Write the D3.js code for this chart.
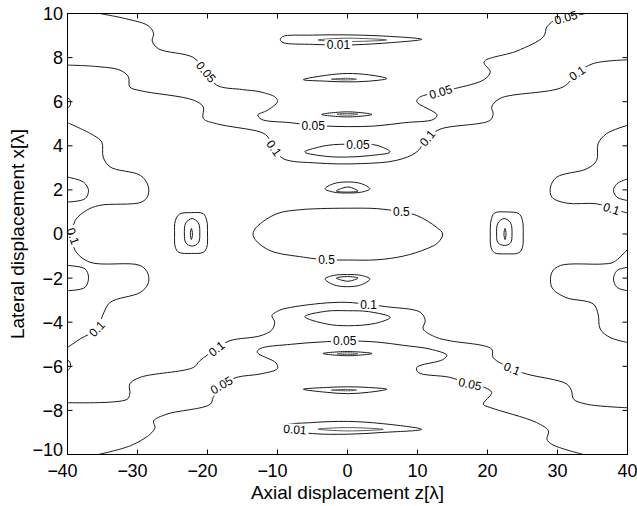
<!DOCTYPE html>
<html><head><meta charset="utf-8">
<script src="https://cdn.jsdelivr.net/npm/d3@7"></script>
<style>
body{margin:0;background:#fff}
svg{display:block}
text{font-family:"Liberation Sans",Arial,Helvetica,sans-serif;fill:#000}
</style>
</head><body>
<svg id="chart" width="637" height="506"></svg>
<script>
// ---------- axis data ----------
const xTicks = [-40,-30,-20,-10,0,10,20,30,40];
const yTicks = [-10,-8,-6,-4,-2,0,2,4,6,8,10];
const xTitle = "Axial displacement z[\u03bb]";
const yTitle = "Lateral displacement x[\u03bb]";

// ---------- contour lines, points are [z, x] ----------
const top005 = [[-35.4,10.0],[-31.5,9.75],[-28.5,9.45],[-27.7,9.1],[-27.9,8.75],[-27.0,8.4],[-22.0,8.0],[-20.2,7.35],[-18.7,6.75],[-15,6.55],[-12.5,6.45],[-10.3,6.2],[-10.0,6.0],[-11.5,5.6],[-12.8,5.4],[-12.3,5.2],[-8.2,5.05],[-4.9,4.93],[0,4.87],[4,4.9],[8.2,5.05],[12.3,5.2],[12.8,5.4],[9.9,6.0],[10.3,6.2],[13.3,6.45],[15.4,6.6],[19.5,7.0],[20.4,7.35],[19.5,7.8],[24.2,8.3],[28,8.95],[28.5,9.4],[29.9,9.75],[31.2,9.82],[34,10.0]];
const top01 = [[-40,7.66],[-36,7.6],[-32.5,7.43],[-31.3,7.13],[-31.1,6.67],[-29.6,6.5],[-22,6.07],[-20.6,5.76],[-20.6,5.24],[-18.7,5.0],[-12.5,4.63],[-11.5,4.45],[-10.5,3.9],[-9.2,3.42],[-4.4,3.22],[1.8,3.19],[7,3.34],[9.9,3.72],[11.4,4.35],[13.2,4.75],[20.4,5.16],[20.8,5.46],[20.6,5.76],[21.8,6.15],[30.8,6.67],[32.8,7.3],[35.1,7.73],[40,7.9]];
const left01 = [[-40,5.05],[-36.3,4.48],[-35.1,4.17],[-34.9,3.49],[-33.9,3.04],[-29.6,2.66],[-28.5,2.2],[-28.5,1.75],[-29.4,1.45],[-35.4,1.3],[-37.3,1.07],[-38.9,0.61],[-39.3,-0.1],[-38.9,-0.75],[-36.8,-1.28],[-29.6,-1.43],[-28.5,-1.81],[-28.5,-2.26],[-29.6,-2.65],[-33.9,-3.1],[-34.9,-3.63],[-35.8,-4.3],[-38.2,-4.76],[-40,-5.15]];
const right01Top = [[40,4.93],[37,4.55],[35.8,4.1],[35.6,3.34],[34.2,2.96],[29.9,2.58],[29,2.13],[29.2,1.67],[31.3,1.4],[35.6,1.37],[37.7,1.15],[40,0.95]];
const right01Bottom = [[40,-0.7],[38,-1.28],[36.5,-1.36],[30.4,-1.43],[29.2,-1.74],[29.2,-2.42],[31.1,-2.87],[35.1,-3.17],[35.8,-3.63],[36.1,-4.31],[37.5,-4.69],[40,-4.92]];
const bottom01 = [[-40,-7.65],[-31.5,-7.5],[-31.1,-7.26],[-31.1,-6.8],[-29.6,-6.5],[-22,-6.05],[-21.1,-5.75],[-18.7,-5.2],[-16.8,-4.84],[-12.5,-4.62],[-10.8,-4.35],[-10.4,-4.0],[-10.8,-3.7],[-10.1,-3.52],[-9.2,-3.4],[-3.9,-3.15],[-0.1,-3.1],[3,-3.2],[5.6,-3.3],[10.4,-3.55],[11.1,-3.93],[10.8,-4.3],[12.7,-4.69],[14.6,-4.84],[20.6,-5.22],[20.8,-5.6],[23.5,-6.1],[25.6,-6.35],[31.3,-6.8],[32,-7.11],[32.3,-7.49],[34.2,-7.72],[40,-7.88]];
const bottom005 = [[-35.6,-10.0],[-31,-9.6],[-28.2,-9.08],[-27.5,-8.78],[-27.7,-8.48],[-25.8,-8.17],[-19.6,-7.72],[-19.2,-7.42],[-18,-6.85],[-15.8,-6.5],[-12.5,-6.35],[-10.0,-6.1],[-10.2,-5.85],[-12.9,-5.37],[-12.5,-5.2],[-8,-5.0],[-3.9,-4.9],[-0.4,-4.85],[4.2,-4.9],[8,-5.05],[11.8,-5.22],[14.2,-5.5],[13.6,-5.7],[9.9,-6.05],[10.1,-6.28],[14.6,-6.5],[17.5,-6.8],[19.6,-6.96],[20.6,-7.19],[19.4,-7.72],[20.4,-7.87],[27,-8.55],[28.7,-8.93],[28.5,-9.31],[29.2,-9.54],[33.7,-10.0]];

const edgeLobeLeftTop = [[-40,2.58],[-37.7,2.35],[-37,1.98],[-37.5,1.6],[-40,1.45]];
const edgeLobeLeftBottom = [[-40,-1.43],[-37.5,-1.58],[-37,-1.96],[-37.5,-2.42],[-40,-2.57]];
const edgeLobeRightTop = [[40,2.5],[38.5,2.28],[38,1.98],[38.5,1.67],[40,1.52]];
const edgeLobeRightBottom = [[40,-1.51],[38.5,-1.66],[38,-2.04],[38.5,-2.42],[40,-2.57]];
const edgeNubLeftTop = [[-40,6.2],[-39.6,6.05],[-39.6,5.85],[-40,5.7]];
const edgeNubLeftBottom = [[-40,-5.7],[-39.6,-5.85],[-39.6,-6.05],[-40,-6.2]];

const eyeLeftOuter = [[-24.7,0],[-24.6,0.6],[-24.0,0.9],[-22.3,0.97],[-20.6,0.92],[-20.1,0.6],[-20.0,0],[-20.1,-0.6],[-20.6,-0.83],[-22.3,-0.88],[-24.1,-0.83],[-24.6,-0.6]];
const eyeLeftInner = [[-23.3,0],[-23.1,0.5],[-22.2,0.7],[-21.3,0.5],[-21.1,0],[-21.3,-0.4],[-22.2,-0.55],[-23.1,-0.4]];
const eyeLeftCore = [[-22.45,0],[-22.3,0.25],[-22.15,0],[-22.3,-0.25]];
const eyeRightOuter = [[20.4,0],[20.5,0.6],[21.0,0.95],[22.7,1.0],[24.5,0.92],[25.0,0.6],[25.1,0],[25.0,-0.6],[24.5,-0.85],[22.7,-0.9],[21.0,-0.85],[20.5,-0.6]];
const eyeRightInner = [[21.3,0],[21.5,0.5],[22.4,0.7],[23.3,0.5],[23.5,0],[23.3,-0.4],[22.4,-0.52],[21.5,-0.4]];
const eyeRightCore = [[22.35,0],[22.5,0.25],[22.65,0],[22.5,-0.25]];

const ellipse05 = [[-13.5,0],[-13,0.31],[-10.1,0.92],[-6.8,1.1],[-3.9,1.15],[0,1.17],[4.2,1.15],[7.7,1.0],[9.9,0.84],[12.7,0.31],[13.6,0],[12.9,-0.4],[11.3,-0.67],[8,-1.0],[4.2,-1.17],[0,-1.18],[-3,-1.17],[-6.3,-1.05],[-11.1,-0.75],[-13.2,-0.25]];
const ringTopOuter = [[-3.2,2.05],[-2,2.28],[0,2.36],[2,2.28],[3.2,2.05],[2,1.9],[0,1.86],[-2,1.9]];
const ringTopInner = [[-1.6,1.95],[-0.5,2.1],[0.2,2.13],[1.5,1.95],[0,1.9]];
const ringBottomOuter = [[-3.2,-2.04],[-2,-1.88],[0,-1.84],[2,-1.88],[3.2,-2.04],[2,-2.3],[0,-2.39],[-2,-2.3]];
const ringBottomInner = [[-1.6,-2.0],[0,-1.93],[1.5,-2.0],[0.2,-2.14],[-0.5,-2.12]];
const loopTop005 = [[-6.1,3.72],[-4,3.95],[-2,4.05],[1.5,4.07],[4.2,4.02],[6.1,3.72],[3,3.55],[0,3.49],[-3,3.52]];
const loopBottom01 = [[-6.1,-3.75],[-3,-3.5],[0,-3.48],[3,-3.52],[6.1,-3.78],[4,-4.05],[0,-4.16],[-3,-4.08]];
const lens54TopOuter = [[-3.7,5.42],[0,5.54],[3.5,5.42],[0,5.31]];
const lens54TopInner = [[-1.5,5.43],[0,5.47],[1.5,5.43],[0,5.39]];
const lens54BottomOuter = [[-3.5,-5.42],[0,-5.33],[3.5,-5.42],[0,-5.52]];
const lens54BottomInner = [[-1.5,-5.43],[0,-5.39],[1.5,-5.43],[0,-5.47]];
const lens7TopOuter = [[-6.3,7.0],[-3,7.2],[0,7.28],[3,7.22],[5.6,7.05],[3,6.93],[0,6.9],[-3,6.93]];
const lens7TopInner = [[-2.3,7.02],[0,7.06],[1.3,7.02],[0,6.99]];
const lens7BottomOuter = [[-6.3,-7.04],[-3,-6.96],[0,-6.93],[3,-6.96],[5.6,-7.04],[3,-7.18],[0,-7.24],[-3,-7.18]];
const lens7BottomInner = [[-2.3,-7.08],[0,-7.05],[1.3,-7.08],[0,-7.11]];
const loopTop001Outer = [[-9.6,8.8],[-9.3,8.95],[-5,9.02],[0,9.03],[5,8.98],[10.6,8.83],[5,8.65],[0,8.57],[-5,8.6],[-9.2,8.68]];
const loopTop001Inner = [[-4.2,8.8],[0,8.88],[5.6,8.8],[0,8.73]];
const loopBottom001Outer = [[-9.2,-8.7],[-5,-8.55],[0,-8.5],[5,-8.6],[10.6,-8.86],[5,-9.0],[0,-9.08],[-5,-9.05],[-9.0,-8.85]];
const loopBottom001Inner = [[-4.2,-8.85],[0,-8.78],[5.1,-8.86],[0,-8.93]];

const openLines = [top005, top01, left01, right01Top, right01Bottom, bottom01, bottom005,
  edgeLobeLeftTop, edgeLobeLeftBottom, edgeLobeRightTop, edgeLobeRightBottom, edgeNubLeftTop, edgeNubLeftBottom];
const closedLines = [eyeLeftOuter, eyeLeftInner, eyeLeftCore, eyeRightOuter, eyeRightInner, eyeRightCore,
  ellipse05, ringTopOuter, ringTopInner, ringBottomOuter, ringBottomInner, loopTop005, loopBottom01,
  lens7TopOuter, lens7BottomOuter, loopTop001Outer, loopBottom001Outer, lens54TopOuter, lens54BottomOuter];
const faintLines = [lens54TopInner, lens54BottomInner, lens7TopInner, lens7BottomInner, loopTop001Inner, loopBottom001Inner];

// ---------- contour labels: text, z, x, rotation ----------
const labelText = ["0.05","0.1","0.05","0.05","0.1","0.1","0.05","0.05","0.01","0.5","0.5","0.1","0.1","0.1","0.05","0.1","0.05","0.01","0.1","0.05","0.1"];
const labelZ    = [-20.2,-10.5,-4.9,13.3,11.4,32.8,31.2,1.5,-1.3,7.7,-3,-39.2,-35.8,-18.7,-18,3,-0.4,-7.5,23.5,17.5,37.7];
const labelX    = [7.35,3.9,4.93,6.45,4.35,7.3,9.82,4.07,8.57,1.0,-1.17,-0.1,-4.3,-5.2,-6.85,-3.2,-4.85,-8.86,-6.1,-6.8,1.15];
const labelRot  = [50,55,0,-17,-50,-35,-15,0,0,0,0,70,-47,-38,-30,0,0,5,22,12,18];

// ---------- drawing ----------
const svg = d3.select("#chart");
const sx = d3.scaleLinear().domain([-40,40]).range([67.5,627.5]);
const sy = d3.scaleLinear().domain([-10,10]).range([454.5,13.5]);

svg.append("defs").append("clipPath").attr("id","clip").append("rect")
  .attr("x",sx(-40)).attr("y",sy(10)).attr("width",sx(40)-sx(-40)).attr("height",sy(-10)-sy(10));

const plot = svg.append("g").attr("clip-path","url(#clip)");
const lineOpen = d3.line().x(d=>sx(d[0])).y(d=>sy(d[1])).curve(d3.curveCatmullRom.alpha(0.5));
const lineClosed = d3.line().x(d=>sx(d[0])).y(d=>sy(d[1])).curve(d3.curveCatmullRomClosed.alpha(0.5));

plot.selectAll("path.open").data(openLines).join("path").attr("class","open")
  .attr("d",lineOpen).attr("fill","none").attr("stroke","#1a1a1a").attr("stroke-width",1);
plot.selectAll("path.closed").data(closedLines).join("path").attr("class","closed")
  .attr("d",lineClosed).attr("fill","none").attr("stroke","#1a1a1a").attr("stroke-width",1);
plot.selectAll("path.faint").data(faintLines).join("path").attr("class","faint")
  .attr("d",lineClosed).attr("fill","none").attr("stroke","#555").attr("stroke-width",1);

const labels = labelText.map((t,i)=>({text:t,z:labelZ[i],x:labelX[i],rot:labelRot[i]}));
const lg = svg.append("g").selectAll("g").data(labels).join("g")
  .attr("transform",d=>`translate(${sx(d.z)},${sy(d.x)}) rotate(${d.rot})`);
lg.each(function(d){
  const g = d3.select(this);
  const t = g.append("text").text(d.text).attr("text-anchor","middle").attr("dy","0.36em").style("font-size","12px");
  const w = t.node().getComputedTextLength();
  g.insert("rect","text").attr("x",-w/2-2).attr("y",-5.5).attr("width",w+4).attr("height",11).attr("fill","#fff");
});

// frame
svg.append("rect").attr("x",sx(-40)).attr("y",sy(10)).attr("width",sx(40)-sx(-40)).attr("height",sy(-10)-sy(10))
  .attr("fill","none").attr("stroke","#000").attr("stroke-width",1);

// ticks (inward on all four sides)
const tk = 5;
const tg = svg.append("g").attr("stroke","#000").attr("stroke-width",1);
xTicks.forEach(v=>{
  tg.append("line").attr("x1",sx(v)).attr("x2",sx(v)).attr("y1",sy(-10)).attr("y2",sy(-10)-tk);
  tg.append("line").attr("x1",sx(v)).attr("x2",sx(v)).attr("y1",sy(10)).attr("y2",sy(10)+tk);
});
yTicks.forEach(v=>{
  tg.append("line").attr("x1",sx(-40)).attr("x2",sx(-40)+tk).attr("y1",sy(v)).attr("y2",sy(v));
  tg.append("line").attr("x1",sx(40)).attr("x2",sx(40)-tk).attr("y1",sy(v)).attr("y2",sy(v));
});

// tick labels
const fs = "18px";
xTicks.forEach(v=>{
  const t = svg.append("text").attr("x",sx(v)).attr("y",477).attr("text-anchor","middle").style("font-size",fs).text(Math.abs(v));
  if (v<0){
    const w = t.node().getComputedTextLength();
    svg.append("text").attr("x",sx(v)-w/2+0.5).attr("y",477).attr("text-anchor","end").style("font-size",fs).text("\u2212");
  }
});
yTicks.forEach(v=>{
  const yy = v===-10 ? sy(v)-4.5 : sy(v);
  svg.append("text").attr("x",63).attr("y",yy).attr("dy","0.36em").attr("text-anchor","end").style("font-size",fs)
    .text(v<0 ? "\u2212"+Math.abs(v) : String(v));
});

// axis titles
svg.append("text").attr("x",(sx(-40)+sx(40))/2).attr("y",499).attr("text-anchor","middle").style("font-size","19px").text(xTitle);
svg.append("text").attr("transform",`translate(24,${(sy(-10)+sy(10))/2}) rotate(-90)`).attr("text-anchor","middle").style("font-size","19px").text(yTitle);
</script>
</body></html>
